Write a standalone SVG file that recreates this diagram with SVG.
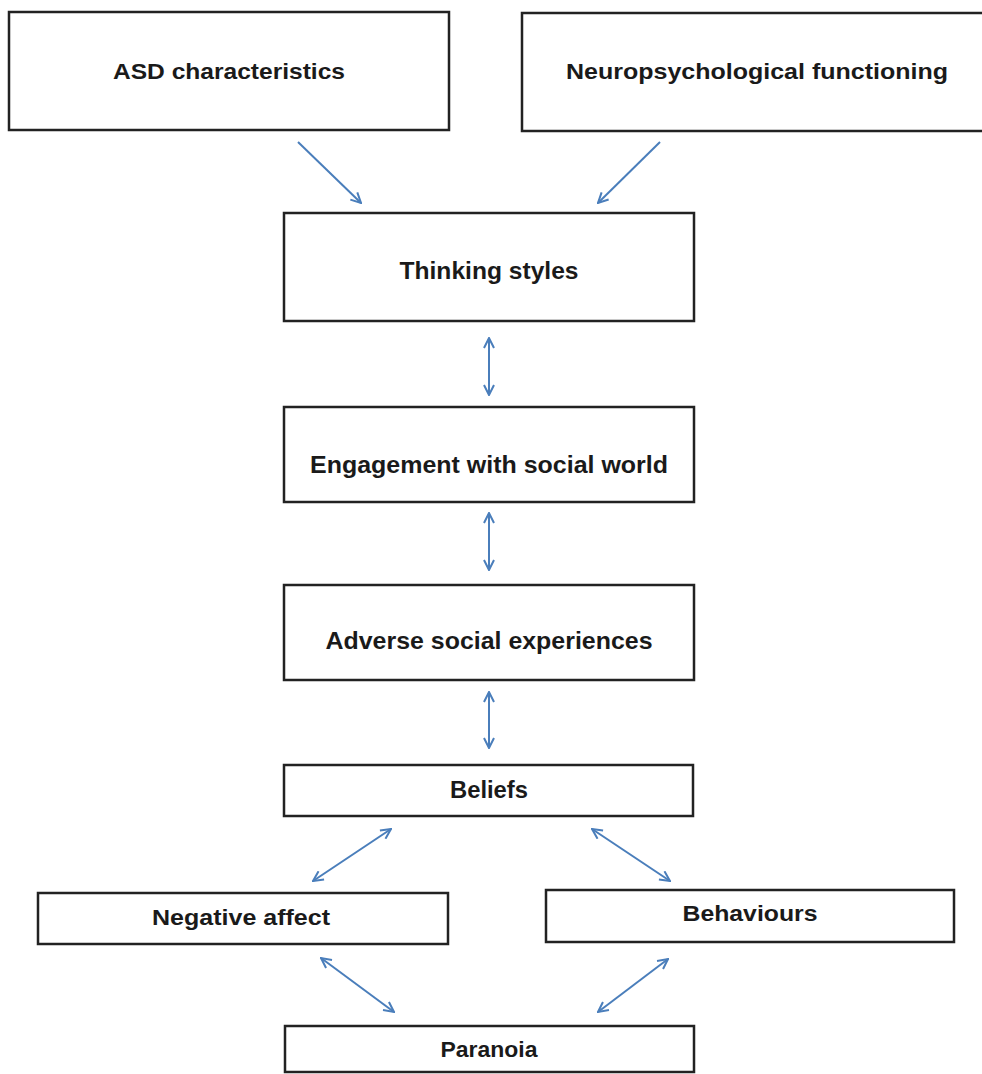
<svg xmlns="http://www.w3.org/2000/svg" width="982" height="1074" viewBox="0 0 982 1074">
<style>
.box{fill:#fff;stroke:#222;stroke-width:2.5}
.t{font-family:"Liberation Sans",Arial,sans-serif;font-weight:bold;fill:#1a1a1a;text-anchor:middle}
.m{font-size:24px}
.c{stroke:#4a7ebb;stroke-width:2;fill:none}
</style>
<defs>
<marker id="ah" viewBox="0 0 12 12" refX="11" refY="6" markerWidth="12" markerHeight="12" markerUnits="userSpaceOnUse" orient="auto-start-reverse">
<path d="M1,1 L11,6 L1,11" fill="none" stroke="#4a7ebb" stroke-width="2"/>
</marker>
</defs>
<rect width="982" height="1074" fill="#fff"/>
<g id="asd"><rect class="box" x="9" y="12" width="440" height="118"/><text class="t" x="229" y="79" font-size="22" textLength="232" lengthAdjust="spacingAndGlyphs">ASD characteristics</text></g>
<g id="neuro"><rect class="box" x="522" y="13" width="470" height="118"/><text class="t" x="757" y="79" font-size="22" textLength="382" lengthAdjust="spacingAndGlyphs">Neuropsychological functioning</text></g>
<g id="thinking"><rect class="box" x="284" y="213" width="410" height="108"/><text class="t m" x="489" y="279" textLength="179" lengthAdjust="spacingAndGlyphs">Thinking styles</text></g>
<g id="engagement"><rect class="box" x="284" y="407" width="410" height="95"/><text class="t m" x="489" y="473" textLength="358" lengthAdjust="spacingAndGlyphs">Engagement with social world</text></g>
<g id="adverse"><rect class="box" x="284" y="585" width="410" height="95"/><text class="t m" x="489" y="649" textLength="327" lengthAdjust="spacingAndGlyphs">Adverse social experiences</text></g>
<g id="beliefs"><rect class="box" x="284" y="765" width="409" height="51"/><text class="t m" x="489" y="798" textLength="78" lengthAdjust="spacingAndGlyphs">Beliefs</text></g>
<g id="negative"><rect class="box" x="38" y="893" width="410" height="51"/><text class="t" x="241" y="925" font-size="22" textLength="178" lengthAdjust="spacingAndGlyphs">Negative affect</text></g>
<g id="behaviours"><rect class="box" x="546" y="890" width="408" height="52"/><text class="t" x="750" y="921" font-size="22" textLength="135" lengthAdjust="spacingAndGlyphs">Behaviours</text></g>
<g id="paranoia"><rect class="box" x="285" y="1026" width="409" height="46"/><text class="t" x="489" y="1057" font-size="22" textLength="97" lengthAdjust="spacingAndGlyphs">Paranoia</text></g>
<g id="connectors">
<line class="c" x1="298" y1="142" x2="361" y2="203" marker-end="url(#ah)"/>
<line class="c" x1="660" y1="142" x2="598" y2="203" marker-end="url(#ah)"/>
<line class="c" x1="489" y1="338" x2="489" y2="395" marker-start="url(#ah)" marker-end="url(#ah)"/>
<line class="c" x1="489" y1="513" x2="489" y2="570" marker-start="url(#ah)" marker-end="url(#ah)"/>
<line class="c" x1="489" y1="692" x2="489" y2="748" marker-start="url(#ah)" marker-end="url(#ah)"/>
<line class="c" x1="391" y1="829" x2="313" y2="881" marker-start="url(#ah)" marker-end="url(#ah)"/>
<line class="c" x1="592" y1="829" x2="670" y2="881" marker-start="url(#ah)" marker-end="url(#ah)"/>
<line class="c" x1="321" y1="958" x2="394" y2="1012" marker-start="url(#ah)" marker-end="url(#ah)"/>
<line class="c" x1="668" y1="959" x2="598" y2="1012" marker-start="url(#ah)" marker-end="url(#ah)"/>
</g>
</svg>
